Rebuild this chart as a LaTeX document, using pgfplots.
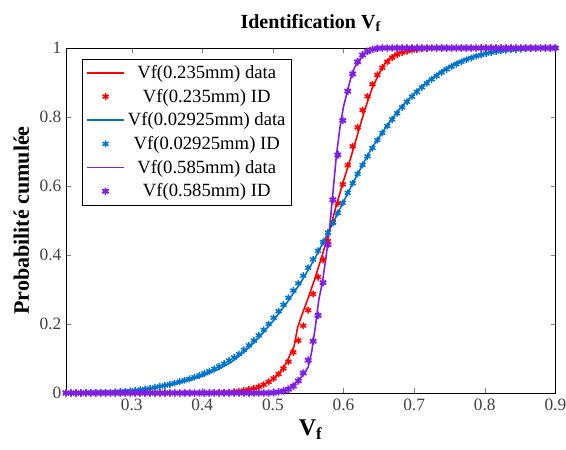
\documentclass[border=0pt]{standalone}
\usepackage{pgfplots}
\pgfplotsset{compat=1.18}
\usepackage{pgfplotstable}
\usetikzlibrary{calc}
\usepackage{fontspec}
\setmainfont{Liberation Serif}
\definecolor{cred}{rgb}{1,0,0}
\definecolor{cblue}{rgb}{0,0.45,0.80}
\definecolor{cpurp}{RGB}{128,30,230}

\pgfplotstableread{
x r b p
0.207 0 0.000 0
0.214 0 0.000 0
0.221 0 0.000 0
0.228 0 0.000 0
0.235 0 0.001 0
0.242 0 0.001 0
0.249 0 0.001 0
0.256 0 0.001 0
0.263 0 0.002 0
0.270 0 0.002 0
0.277 0 0.003 0
0.284 0 0.004 0
0.291 0 0.005 0
0.298 0 0.006 0
0.305 0 0.007 0
0.312 0 0.009 0
0.319 0 0.011 0
0.326 0 0.013 0
0.333 0 0.016 0
0.340 0 0.019 0
0.347 0 0.022 0
0.354 0 0.025 0
0.361 0 0.029 0
0.368 0 0.033 0
0.375 0 0.037 0
0.382 0 0.041 0
0.389 0 0.046 0
0.396 0 0.051 0
0.403 0 0.057 0
0.410 0 0.063 0
0.417 0.001 0.070 0
0.424 0.001 0.077 0
0.431 0.002 0.085 0
0.438 0.002 0.094 0
0.445 0.003 0.103 0
0.452 0.005 0.113 0
0.459 0.007 0.125 0
0.466 0.010 0.138 0
0.473 0.013 0.152 0
0.480 0.018 0.167 0
0.487 0.024 0.183 0
0.494 0.032 0.200 0
0.501 0.042 0.218 0.001
0.508 0.055 0.237 0.003
0.515 0.071 0.256 0.006
0.522 0.091 0.276 0.011
0.529 0.118 0.297 0.020
0.536 0.152 0.318 0.035
0.543 0.195 0.340 0.058
0.550 0.240 0.363 0.095
0.557 0.287 0.387 0.150
0.564 0.336 0.412 0.225
0.571 0.386 0.438 0.320
0.578 0.440 0.465 0.430
0.585 0.495 0.493 0.560
0.592 0.550 0.522 0.690
0.599 0.605 0.551 0.790
0.606 0.660 0.580 0.875
0.613 0.715 0.608 0.925
0.620 0.770 0.635 0.960
0.627 0.820 0.661 0.980
0.634 0.860 0.686 0.990
0.641 0.895 0.710 0.996
0.648 0.922 0.733 0.999
0.655 0.943 0.754 1
0.662 0.960 0.774 1
0.669 0.972 0.793 1
0.676 0.981 0.811 1
0.683 0.987 0.828 1
0.690 0.991 0.844 1
0.697 0.994 0.859 1
0.704 0.996 0.873 1
0.711 0.998 0.886 1
0.718 0.999 0.898 1
0.725 1 0.909 1
0.732 1 0.919 1
0.739 1 0.929 1
0.746 1 0.938 1
0.753 1 0.946 1
0.760 1 0.953 1
0.767 1 0.960 1
0.774 1 0.966 1
0.781 1 0.971 1
0.788 1 0.976 1
0.795 1 0.980 1
0.802 1 0.984 1
0.809 1 0.987 1
0.816 1 0.990 1
0.823 1 0.992 1
0.830 1 0.994 1
0.837 1 0.995 1
0.844 1 0.996 1
0.851 1 0.997 1
0.858 1 0.998 1
0.865 1 0.999 1
0.872 1 0.999 1
0.879 1 1 1
0.886 1 1 1
0.893 1 1 1
0.900 1 1 1
}\idtable

\pgfplotstableread{
x y
0.207 0
0.40 0
0.44 0.003
0.46 0.007
0.48 0.015
0.50 0.040
0.51 0.060
0.52 0.090
0.525 0.115
0.53 0.135
0.535 0.190
0.54 0.220
0.55 0.275
0.56 0.335
0.57 0.400
0.58 0.470
0.59 0.545
0.60 0.615
0.61 0.680
0.62 0.750
0.63 0.820
0.64 0.880
0.65 0.925
0.66 0.960
0.67 0.978
0.68 0.988
0.70 0.996
0.72 1
0.90 1
}\redline

\pgfplotstableread{
x y
0.207 0
0.25 0.001
0.28 0.003
0.30 0.006
0.32 0.011
0.34 0.018
0.36 0.026
0.38 0.036
0.40 0.049
0.42 0.066
0.44 0.088
0.46 0.120
0.48 0.160
0.50 0.208
0.52 0.262
0.54 0.322
0.56 0.392
0.58 0.472
0.60 0.555
0.62 0.635
0.64 0.710
0.66 0.770
0.68 0.825
0.70 0.868
0.72 0.905
0.74 0.935
0.76 0.958
0.78 0.974
0.80 0.985
0.82 0.992
0.85 0.997
0.88 1
0.90 1
}\blueline

\pgfplotstableread{
x y
0.207 0
0.50 0
0.51 0.003
0.52 0.010
0.53 0.025
0.54 0.045
0.55 0.075
0.555 0.120
0.56 0.190
0.565 0.270
0.57 0.320
0.575 0.390
0.58 0.470
0.585 0.580
0.59 0.690
0.595 0.770
0.60 0.830
0.605 0.870
0.61 0.910
0.615 0.940
0.62 0.960
0.63 0.983
0.64 0.996
0.65 1
0.90 1
}\purpline

\begin{document}
\begin{tikzpicture}
\begin{axis}[
  name=ax,
  scale only axis,
  width=367pt, height=258.75pt,
  xmin=0.207, xmax=0.9, ymin=0, ymax=1,
  xtick={0.3,0.4,0.5,0.6,0.7,0.8,0.9},
  ytick={0,0.2,0.4,0.6,0.8,1},
  tick align=inside,
  major tick length=3.5pt,
  /pgf/number format/assume math mode=true,
  ticklabel style={font=\fontsize{13}{14}\selectfont, text=black!75},
  xticklabel style={yshift=-1pt},
  title={\textbf{Identification V\textsubscript{f}}},
  title style={font=\fontsize{15}{17}\selectfont, yshift=3pt},
  xlabel={\textbf{V\textsubscript{f}}},
  xlabel style={font=\fontsize{18}{20}\selectfont, yshift=0pt},
  ylabel={\textbf{Probabilité cumulée}},
  ylabel style={font=\fontsize{16.5}{18}\selectfont, yshift=1pt},
  axis line style={black, line width=0.6pt},
  legend style={at={(0.033,0.968)}, anchor=north west, draw=black,
    font=\fontsize{14}{15}\selectfont, row sep=2.4pt, inner sep=2.5pt},
  legend cell align=center,
  legend image code/.code={\draw[mark repeat=2,mark phase=2,#1] plot coordinates {(0cm,0cm) (0.5cm,0cm) (1.0cm,0cm)};},
]
\addplot[cred, line width=1.2pt] table[x=x,y=y] {\redline};
\addlegendentry{Vf(0.235mm) data}
\addplot[cred, only marks, mark=asterisk, mark size=2.6pt, line width=1.1pt] table[x=x,y=r] {\idtable};
\addlegendentry{Vf(0.235mm) ID}
\addplot[cblue, line width=1.2pt] table[x=x,y=y] {\blueline};
\addlegendentry{Vf(0.02925mm) data}
\addplot[cblue, only marks, mark=asterisk, mark size=2.6pt, line width=1.1pt] table[x=x,y=b] {\idtable};
\addlegendentry{Vf(0.02925mm) ID}
\addplot[cpurp, line width=1.2pt] table[x=x,y=y] {\purpline};
\addlegendentry{Vf(0.585mm) data}
\addplot[cpurp, only marks, mark=asterisk, mark size=2.8pt, line width=1.4pt] table[x=x,y=p] {\idtable};
\addlegendentry{Vf(0.585mm) ID}
\end{axis}
\pgfresetboundingbox
\path ($(ax.south west)+(-49.5pt,-42.75pt)$) rectangle ($(ax.north east)+(8pt,36pt)$);
\end{tikzpicture}
\end{document}
